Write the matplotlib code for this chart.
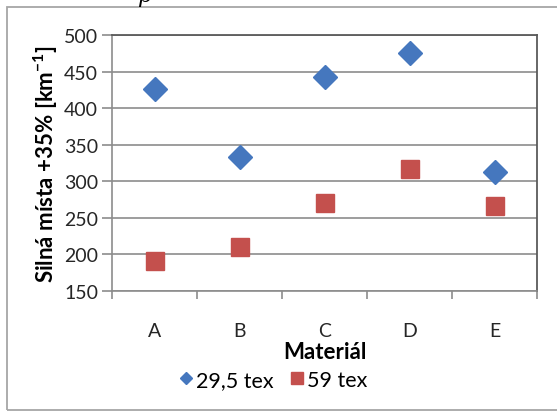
import matplotlib.pyplot as plt
from matplotlib.patches import Rectangle
from matplotlib.lines import Line2D
import numpy as np

plt.rcParams['font.family'] = ['Lato', 'DejaVu Sans']

# namerené hodnoty
materialy = ['A', 'B', 'C', 'D', 'E']
tex_29_5 = [426, 333, 443, 476, 313]
tex_59 = [191, 210, 270, 317, 266]
y_ticks = [150, 200, 250, 300, 350, 400, 450, 500]

modra = '#4577be'
cervena = '#c4504d'

fig = plt.figure(figsize=(5.57, 4.14), dpi=100)

# ramecek okolo grafu
fig.patches.append(Rectangle((7 / 557, 1 - 411 / 414), 1.0, (411 - 8) / 414,
                             transform=fig.transFigure, fill=False,
                             edgecolor='#a6a6a6', linewidth=1.3))
fig.text(137 / 557, 1 - 2 / 414, 'p', family='DejaVu Serif', style='italic',
         fontsize=16, va='baseline', ha='left')

ax = fig.add_axes([112 / 557, 1 - 292 / 414, 425 / 557, 256 / 414])
x = np.arange(len(materialy))

ax.plot(x, tex_29_5, linestyle='none', marker='D', ms=12.5, color=modra,
        zorder=3)
ax.plot(x, tex_59, linestyle='none', marker='s', ms=13.5, color=cervena,
        zorder=3)

ax.set_xlim(-0.5, len(materialy) - 0.5)
ax.set_ylim(150, 500)
ax.set_yticks(y_ticks)
ax.set_xticks(x)
ax.set_xticklabels(materialy)
ax.set_xticks(np.arange(len(materialy) + 1) - 0.5, minor=True)
ax.tick_params(axis='x', which='major', length=0, pad=22, labelsize=14,
               labelcolor='#262626')
ax.tick_params(axis='x', which='minor', length=6, color='#8c8c8c', width=1.2)
ax.tick_params(axis='y', length=7, color='#8c8c8c', width=1.2, labelsize=14,
               labelcolor='#262626', pad=3)

ax.grid(axis='y', color='#8c8c8c', linewidth=1.2)
ax.set_axisbelow(True)
for side in ['left', 'bottom']:
    ax.spines[side].set_color('#8c8c8c')
    ax.spines[side].set_linewidth(1.2)
for side in ['top', 'right']:
    ax.spines[side].set_color('#5a5a5a')
    ax.spines[side].set_linewidth(1.3)

ax.set_xlabel('Materiál', fontsize=16, fontweight='bold', labelpad=2)
ax.set_ylabel('Silná místa +35% [km$^{\\mathregular{-1}}$]', fontsize=16,
              fontweight='bold', labelpad=3)

# legenda s mensimi znackami
handles = [Line2D([], [], linestyle='none', marker='D', ms=6, color=modra),
           Line2D([], [], linestyle='none', marker='s', ms=8.5, color=cervena)]
fig.legend(handles, ['29,5 tex', '59 tex'], loc='center',
           bbox_to_anchor=(274 / 557, 1 - 381 / 414), ncol=2, frameon=False,
           fontsize=15.5, handlelength=0.5, handletextpad=0.25,
           columnspacing=0.8)

fig.savefig('out.png', dpi=100)
